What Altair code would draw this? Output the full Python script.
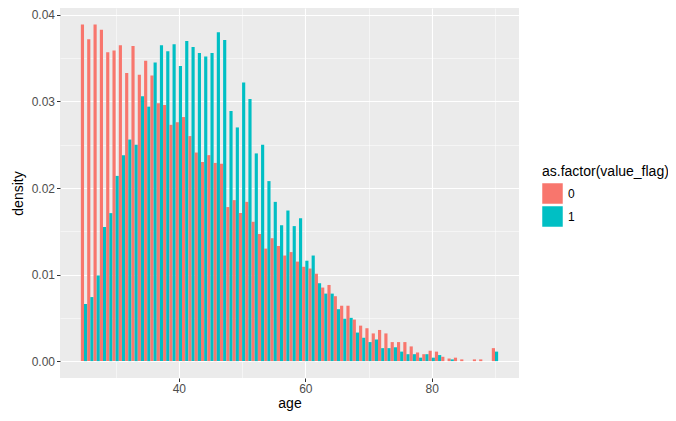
import altair as alt
import pandas as pd

ages = list(range(25, 91))

density_0 = [
    0.0389, 0.0372, 0.0389, 0.0383, 0.0357, 0.0359, 0.0365, 0.0333, 0.0364, 0.0331,
    0.0347, 0.0330, 0.0298, 0.0296, 0.0273, 0.0276, 0.0282, 0.0260, 0.0241, 0.0230,
    0.0238, 0.0229, 0.0228, 0.0178, 0.0186, 0.0171, 0.0184, 0.0161, 0.0147, 0.0130,
    0.0142, 0.0133, 0.0122, 0.0126, 0.0115, 0.0109, 0.0107, 0.0101, 0.0085, 0.0088,
    0.0075, 0.0064, 0.0064, 0.0048, 0.0041, 0.0038, 0.0032, 0.0036, 0.0032, 0.0022,
    0.0022, 0.0022, 0.0017, 0.0010, 0.0008, 0.0012, 0.0011, 0.0005, 0.0003, 0.0004,
    0.0002, 0.0000, 0.0002, 0.0002, 0.0000, 0.0015,
]

density_1 = [
    0.0066, 0.0074, 0.0099, 0.0155, 0.0171, 0.0214, 0.0238, 0.0256, 0.0250, 0.0306,
    0.0294, 0.0345, 0.0365, 0.0358, 0.0366, 0.0341, 0.0370, 0.0363, 0.0356, 0.0352,
    0.0356, 0.0380, 0.0371, 0.0289, 0.0270, 0.0322, 0.0303, 0.0240, 0.0250, 0.0208,
    0.0184, 0.0157, 0.0174, 0.0156, 0.0165, 0.0116, 0.0122, 0.0090, 0.0078, 0.0078,
    0.0060, 0.0049, 0.0050, 0.0033, 0.0027, 0.0022, 0.0025, 0.0015, 0.0015, 0.0016,
    0.0011, 0.0008, 0.0008, 0.0004, 0.0008, 0.0004, 0.0007, 0.0000, 0.0002, 0.0000,
    0.0000, 0.0000, 0.0000, 0.0000, 0.0000, 0.0011,
]

flags = ["0", "1"]
colors = ["#F8766D", "#00BFC4"]

x_ticks = [30, 40, 50, 60, 70, 80, 90]
y_ticks = [0.0, 0.005, 0.01, 0.015, 0.02, 0.025, 0.03, 0.035, 0.04]

rows = []
for a, d0, d1 in zip(ages, density_0, density_1):
    rows.append({"age": a, "flag": flags[0], "density": d0})
    rows.append({"age": a, "flag": flags[1], "density": d1})
df = pd.DataFrame(rows)

FONT = "Liberation Sans, Arial, sans-serif"

x_axis = alt.Axis(
    values=x_ticks,
    labelExpr="datum.value % 20 == 0 ? datum.label : ''",
    grid=True,
    gridColor="#FFFFFF",
    gridWidth={"condition": {"test": "datum.value % 20 == 0", "value": 1.1}, "value": 0.5},
    tickOpacity={"condition": {"test": "datum.value % 20 == 0", "value": 1}, "value": 0},
    tickColor="#333333",
    tickSize=3.5,
    tickWidth=1,
    domain=False,
    labelColor="#4D4D4D",
    labelFontSize=12,
    labelFont=FONT,
    labelPadding=2,
    title="age",
    titleFont=FONT,
    titleFontSize=14,
    titleFontWeight="normal",
    titleColor="#000000",
    titlePadding=2,
)

y_axis = alt.Axis(
    values=y_ticks,
    labelExpr="round(datum.value * 1000) % 10 == 0 ? format(datum.value, '.2f') : ''",
    grid=True,
    gridColor="#FFFFFF",
    gridWidth={"condition": {"test": "round(datum.value * 1000) % 10 == 0", "value": 1.1}, "value": 0.5},
    tickOpacity={"condition": {"test": "round(datum.value * 1000) % 10 == 0", "value": 1}, "value": 0},
    tickColor="#333333",
    tickSize=3.5,
    tickWidth=1,
    domain=False,
    labelColor="#4D4D4D",
    labelFontSize=12,
    labelFont=FONT,
    labelPadding=2,
    title="density",
    titleFont=FONT,
    titleFontSize=14,
    titleFontWeight="normal",
    titleColor="#000000",
    titlePadding=6,
)

chart = (
    alt.Chart(df)
    .transform_calculate(
        x0="datum.age - 0.5 + (datum.flag == '1' ? 0.5 : 0)",
        x1="datum.age + (datum.flag == '1' ? 0.5 : 0)",
    )
    .mark_rect()
    .encode(
        x=alt.X(
            "x0:Q",
            scale=alt.Scale(domain=[21.2, 93.8], nice=False, zero=False),
            axis=x_axis,
        ),
        x2="x1:Q",
        y=alt.Y(
            "density:Q",
            scale=alt.Scale(domain=[-0.00195, 0.0408], nice=False, zero=False),
            axis=y_axis,
        ),
        y2=alt.datum(0),
        color=alt.Color(
            "flag:N",
            scale=alt.Scale(domain=flags, range=colors),
            legend=alt.Legend(
                title="as.factor(value_flag)",
                orient="none",
                legendX=482,
                legendY=157,
                padding=0,
                titleFont=FONT,
                titleFontSize=14,
                titleFontWeight="normal",
                titleColor="#000000",
                titlePadding=4,
                symbolType="square",
                symbolSize=420,
                symbolStrokeWidth=0,
                symbolOpacity=1,
                labelFont=FONT,
                labelFontSize=12,
                labelColor="#000000",
                labelOffset=5,
                rowPadding=2,
            ),
        ),
    )
    .properties(
        width=459,
        height=370,
        autosize=alt.AutoSizeParams(type="none"),
        padding={"left": 52, "top": 0, "right": 149, "bottom": 35},
        background="#FFFFFF",
    )
    .configure_view(fill="#EBEBEB", stroke=None)
)

chart.save("out.html", embed_options={"renderer": "svg", "actions": False})
